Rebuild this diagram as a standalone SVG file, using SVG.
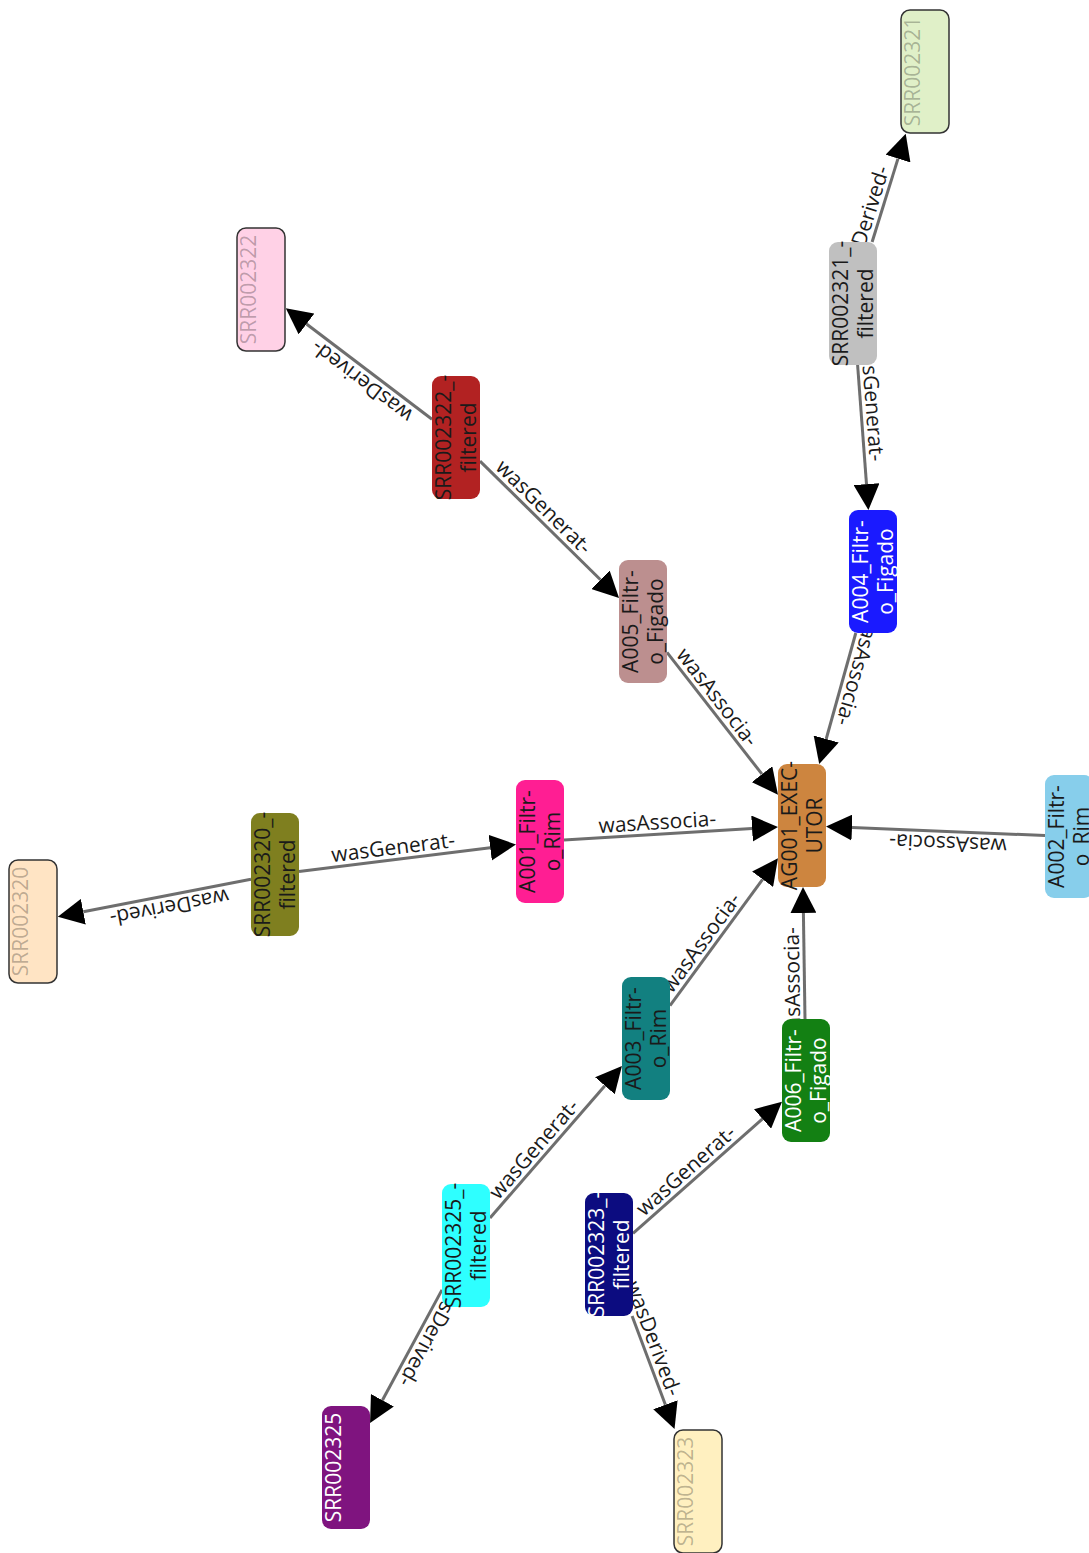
<svg xmlns="http://www.w3.org/2000/svg" width="1089" height="1553" viewBox="0 0 1089 1553">
<style>
.n rect{rx:9px;ry:9px}
.leaf rect{stroke:#333;stroke-width:1.5}
.t{font-family:"Open Sans","DejaVu Sans",sans-serif;font-size:21px;text-anchor:middle}
.dk{fill:#1a1a1a}
.wh{fill:#ffffff}
.gh{fill:#000;fill-opacity:0.27}
.edges line{stroke:#6e6e6e;stroke-width:3;marker-end:url(#arr)}
.lbl{font-family:"Open Sans","DejaVu Sans",sans-serif;font-size:21px;fill:#1a1a1a}
.m{text-anchor:middle}
.e{text-anchor:end}
</style>
<defs>
<marker id="arr" markerUnits="userSpaceOnUse" markerWidth="26" markerHeight="26" refX="0" refY="13" orient="auto">
<path d="M0,0 L26,13 L0,26 Z" fill="#000"/>
</marker>
</defs>
<rect width="1089" height="1553" fill="#fff"/>
<g id="connectors" class="edges">
<line x1="872.1" y1="242" x2="898.0" y2="158.6"/>
<line x1="857.6" y1="365" x2="866.5" y2="484.1"/>
<line x1="855.8" y1="633" x2="826.2" y2="739"/>
<line x1="432" y1="419.3" x2="306.5" y2="324.0"/>
<line x1="480" y1="461.1" x2="600.5" y2="579.7"/>
<line x1="667" y1="652.3" x2="762" y2="774.2"/>
<line x1="564" y1="840" x2="752.05" y2="828.6"/>
<line x1="299" y1="871.5" x2="490.2" y2="847.7"/>
<line x1="251" y1="879.2" x2="83.3" y2="911.7"/>
<line x1="1045" y1="835.5" x2="852" y2="827.6"/>
<line x1="670" y1="1005.7" x2="762.6" y2="879.3"/>
<line x1="805" y1="1019" x2="803.4" y2="913"/>
<line x1="490" y1="1217.9" x2="604.9" y2="1085.7"/>
<line x1="633" y1="1233.3" x2="762.5" y2="1118.9"/>
<line x1="442" y1="1289.9" x2="382.4" y2="1400.2"/>
<line x1="632.1" y1="1316" x2="665.4" y2="1404.7"/>
<text class="lbl e" transform="translate(894.4,170) rotate(-72.76)" y="-5">wasDerived-</text>
<text class="lbl e" transform="translate(864.8,462) rotate(85.73)" y="-5">wasGenerat-</text>
<text class="lbl e" transform="translate(831,722) rotate(105.6)" y="-5">wasAssocia-</text>
<text class="lbl m" transform="translate(369.2,371.7) rotate(-142.8)" y="-5">wasDerived-</text>
<text class="lbl m" transform="translate(535.4,515.6) rotate(44.5)" y="-5">wasGenerat-</text>
<text class="lbl m" transform="translate(707.8,704.6) rotate(52.1)" y="-5">wasAssocia-</text>
<text class="lbl m" transform="translate(658,834.3) rotate(-3.49)" y="-5">wasAssocia-</text>
<text class="lbl m" transform="translate(394.6,859.6) rotate(-7.1)" y="-5">wasGenerat-</text>
<text class="lbl m" transform="translate(167.1,895.4) rotate(169.0)" y="-5">wasDerived-</text>
<text class="lbl m" transform="translate(948.5,831.5) rotate(-177.6)" y="-5">wasAssocia-</text>
<text class="lbl m" transform="translate(710.9,949.8) rotate(-53.8)" y="-5">wasAssocia-</text>
<text class="lbl e" transform="translate(803.7,927) rotate(-90.9)" y="-5">wasAssocia-</text>
<text class="lbl m" transform="translate(543,1157) rotate(-49.0)" y="-5">wasGenerat-</text>
<text class="lbl m" transform="translate(693.8,1179.6) rotate(-41.45)" y="-5">wasGenerat-</text>
<text class="lbl e" transform="translate(393.5,1379.6) rotate(118.4)" y="-5">wasDerived-</text>
<text class="lbl e" transform="translate(663.4,1399.3) rotate(69.4)" y="-5">wasDerived-</text>
</g>
<g id="SRR002321" class="n leaf">
<rect x="901" y="10" width="48" height="123" fill="#e0f0c8"/>
<text class="t gh" x="925" y="66" transform="rotate(-90 925 71.5)">SRR002321</text>
</g>
<g id="SRR002321_filtered" class="n">
<rect x="829" y="242" width="48" height="123" fill="#c0c0c0"/>
<text class="t dk" transform="rotate(-90 853 303.5)"><tspan x="853" y="298">SRR002321_-</tspan><tspan x="853" y="323">filtered</tspan></text>
</g>
<g id="A004_Filtro_Figado" class="n">
<rect x="849" y="510" width="48" height="123" fill="#1a1aff"/>
<text class="t wh" transform="rotate(-90 873 571.5)"><tspan x="873" y="566">A004_Filtr-</tspan><tspan x="873" y="591">o_Figado</tspan></text>
</g>
<g id="AG001_EXECUTOR" class="n">
<rect x="778" y="764" width="48" height="123" fill="#cd853f"/>
<text class="t dk" transform="rotate(-90 802 825.5)"><tspan x="802" y="820">AG001_EXEC-</tspan><tspan x="802" y="845">UTOR</tspan></text>
</g>
<g id="A002_Filtro_Rim" class="n">
<rect x="1045" y="775" width="48" height="123" fill="#87ceeb"/>
<text class="t dk" transform="rotate(-90 1069 836.5)"><tspan x="1069" y="831">A002_Filtr-</tspan><tspan x="1069" y="856">o_Rim</tspan></text>
</g>
<g id="A005_Filtro_Figado" class="n">
<rect x="619" y="560" width="48" height="123" fill="#bc8f8f"/>
<text class="t dk" transform="rotate(-90 643 621.5)"><tspan x="643" y="616">A005_Filtr-</tspan><tspan x="643" y="641">o_Figado</tspan></text>
</g>
<g id="SRR002322_filtered" class="n">
<rect x="432" y="376" width="48" height="123" fill="#b22222"/>
<text class="t dk" transform="rotate(-90 456 437.5)"><tspan x="456" y="432">SRR002322_-</tspan><tspan x="456" y="457">filtered</tspan></text>
</g>
<g id="SRR002322" class="n leaf">
<rect x="237" y="228" width="48" height="123" fill="#ffd1e6"/>
<text class="t gh" x="261" y="284" transform="rotate(-90 261 289.5)">SRR002322</text>
</g>
<g id="A001_Filtro_Rim" class="n">
<rect x="516" y="780" width="48" height="123" fill="#ff1e93"/>
<text class="t dk" transform="rotate(-90 540 841.5)"><tspan x="540" y="836">A001_Filtr-</tspan><tspan x="540" y="861">o_Rim</tspan></text>
</g>
<g id="SRR002320_filtered" class="n">
<rect x="251" y="813" width="48" height="123" fill="#7f7f1f"/>
<text class="t dk" transform="rotate(-90 275 874.5)"><tspan x="275" y="869">SRR002320_-</tspan><tspan x="275" y="894">filtered</tspan></text>
</g>
<g id="SRR002320" class="n leaf">
<rect x="9" y="860" width="48" height="123" fill="#ffe4c4"/>
<text class="t gh" x="33" y="916" transform="rotate(-90 33 921.5)">SRR002320</text>
</g>
<g id="A003_Filtro_Rim" class="n">
<rect x="622" y="977" width="48" height="123" fill="#128080"/>
<text class="t dk" transform="rotate(-90 646 1038.5)"><tspan x="646" y="1033">A003_Filtr-</tspan><tspan x="646" y="1058">o_Rim</tspan></text>
</g>
<g id="A006_Filtro_Figado" class="n">
<rect x="782" y="1019" width="48" height="123" fill="#138013"/>
<text class="t wh" transform="rotate(-90 806 1080.5)"><tspan x="806" y="1075">A006_Filtr-</tspan><tspan x="806" y="1100">o_Figado</tspan></text>
</g>
<g id="SRR002325_filtered" class="n">
<rect x="442" y="1184" width="48" height="123" fill="#2effff"/>
<text class="t dk" transform="rotate(-90 466 1245.5)"><tspan x="466" y="1240">SRR002325_-</tspan><tspan x="466" y="1265">filtered</tspan></text>
</g>
<g id="SRR002325" class="n">
<rect x="322" y="1406" width="48" height="123" fill="#7f147f"/>
<text class="t wh" x="346" y="1462" transform="rotate(-90 346 1467.5)">SRR002325</text>
</g>
<g id="SRR002323_filtered" class="n">
<rect x="585" y="1193" width="48" height="123" fill="#0c0c80"/>
<text class="t wh" transform="rotate(-90 609 1254.5)"><tspan x="609" y="1249">SRR002323_-</tspan><tspan x="609" y="1274">filtered</tspan></text>
</g>
<g id="SRR002323" class="n leaf">
<rect x="674" y="1430" width="48" height="123" fill="#fff0c0"/>
<text class="t gh" x="698" y="1486" transform="rotate(-90 698 1491.5)">SRR002323</text>
</g>
</svg>
